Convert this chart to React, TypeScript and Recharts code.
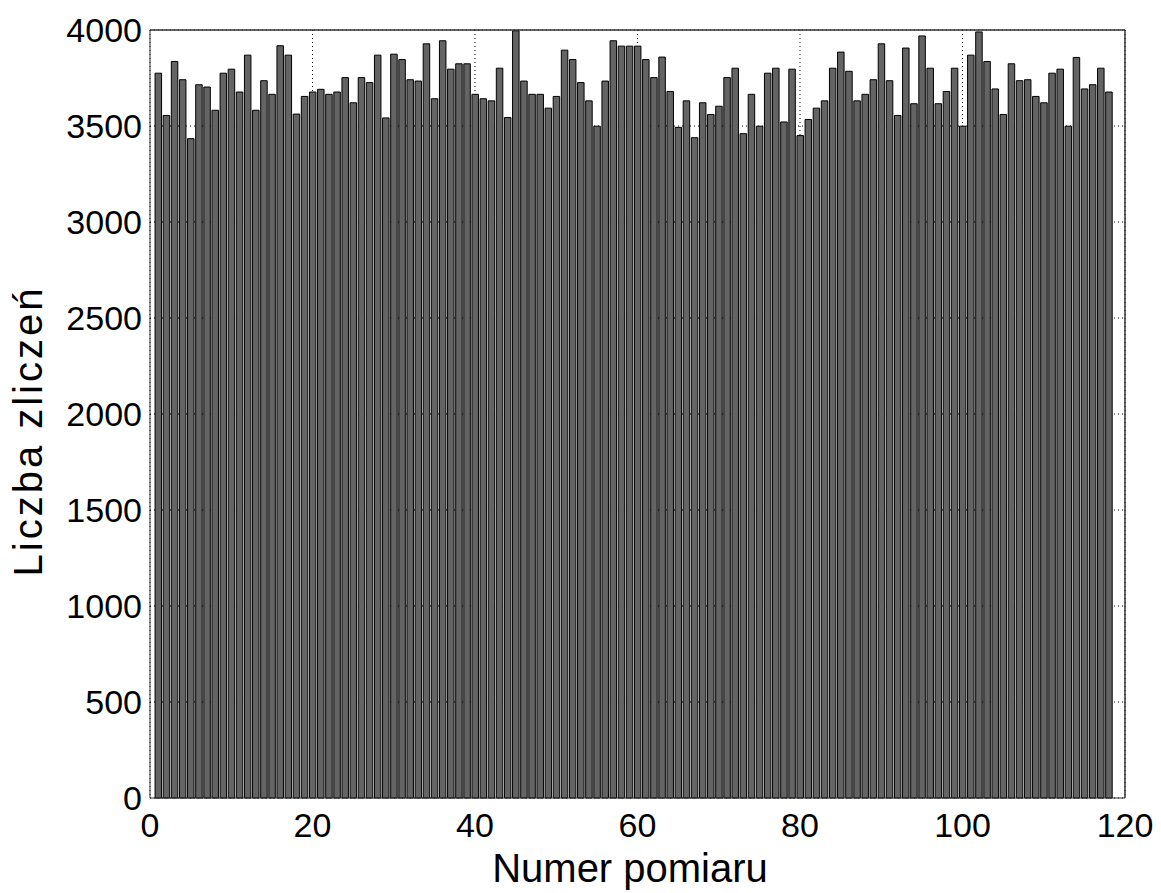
import React from 'react';
import { BarChart, Bar, XAxis, YAxis, CartesianGrid, Label, ReferenceLine } from 'recharts';

const counts = [
  3775, 3555, 3836, 3741, 3434, 3715, 3703, 3582, 3775, 3796,
  3677, 3869, 3582, 3736, 3665, 3918, 3869, 3562, 3654, 3677,
  3691, 3665, 3677, 3752, 3621, 3752, 3726, 3869, 3542, 3874,
  3846, 3741, 3734, 3928, 3642, 3944, 3796, 3824, 3824, 3665,
  3642, 3631, 3801, 3544, 3996, 3734, 3665, 3665, 3593, 3654,
  3895, 3846, 3726, 3631, 3499, 3734, 3944, 3916, 3916, 3916,
  3846, 3752, 3859, 3680, 3493, 3631, 3439, 3621, 3560, 3603,
  3752, 3801, 3460, 3665, 3499, 3775, 3801, 3521, 3796, 3450,
  3534, 3593, 3631, 3801, 3885, 3785, 3631, 3665, 3741, 3928,
  3736, 3555, 3906, 3616, 3969, 3801, 3616, 3680, 3801, 3499,
  3869, 3990, 3836, 3693, 3560, 3824, 3736, 3741, 3654, 3621,
  3775, 3796, 3499, 3857, 3693, 3715, 3801, 3677,
];

const xTicks = [0, 20, 40, 60, 80, 100, 120];
const yTicks = [0, 500, 1000, 1500, 2000, 2500, 3000, 3500, 4000];

const xTitle = 'Numer pomiaru';
const yTitle = 'Liczba zliczeń';

const data = counts.map((v, i) => ({ n: i + 1, count: v }));

const FONT = '"Liberation Sans", Arial, Helvetica, sans-serif';
const AXIS = '#333333';
const tickStyle = { fill: '#000', fontSize: 34, fontFamily: FONT };

export default function App() {
  return (
    <div style={{ position: 'absolute', left: 0, top: 0, width: 1161, height: 893, background: '#fff' }}>
      <BarChart
        width={1161}
        height={893}
        data={data}
        margin={{ top: 29, right: 35, bottom: 0, left: 0 }}
        barCategoryGap="10%"
      >
        <CartesianGrid stroke="#000" strokeDasharray="1 3" strokeWidth={1} />
        <XAxis
          dataKey="n"
          type="number"
          domain={[0, 120]}
          ticks={xTicks}
          interval={0}
          height={95}
          tickLine={false}
          tickSize={6}
          tickMargin={9}
          axisLine={{ stroke: AXIS }}
          tick={tickStyle}
        >
          <Label
            content={() => (
              <text x={630} y={882} textAnchor="middle" fontSize={40} fontFamily={FONT} fill="#000">
                {xTitle}
              </text>
            )}
          />
        </XAxis>
        <XAxis
          xAxisId="top"
          orientation="top"
          type="number"
          dataKey="n"
          domain={[0, 120]}
          ticks={xTicks}
          interval={0}
          height={1}
          tickSize={-11}
          tick={false}
          axisLine={{ stroke: AXIS }}
          tickLine={{ stroke: AXIS }}
        />
        <YAxis
          type="number"
          domain={[0, 4000]}
          ticks={yTicks}
          interval={0}
          width={150}
          tickLine={false}
          tickSize={6}
          tickMargin={2}
          axisLine={{ stroke: AXIS }}
          tick={tickStyle}
        >
          <Label
            content={() => (
              <text
                x={42}
                y={431}
                transform="rotate(-90, 42, 431)"
                textAnchor="middle"
                fontSize={40}
                fontFamily={FONT}
                letterSpacing={3}
                fill="#000"
              >
                {yTitle}
              </text>
            )}
          />
        </YAxis>
        <YAxis
          yAxisId="right"
          orientation="right"
          type="number"
          domain={[0, 4000]}
          ticks={yTicks}
          interval={0}
          width={1}
          tickSize={-11}
          tick={false}
          axisLine={{ stroke: AXIS }}
          tickLine={{ stroke: AXIS }}
        />
        <Bar dataKey="count" fill="#646464" stroke="#000" strokeWidth={1} barSize={6.5} isAnimationActive={false} />
        <ReferenceLine y={4000} stroke={AXIS} strokeWidth={1} />
        <ReferenceLine x={120} stroke={AXIS} strokeWidth={1} />
      </BarChart>
    </div>
  );
}
